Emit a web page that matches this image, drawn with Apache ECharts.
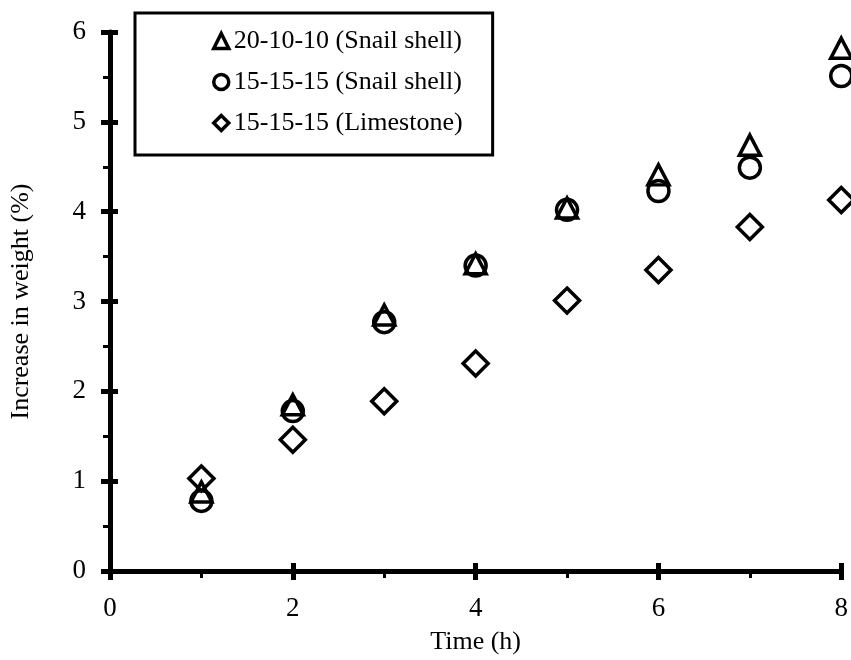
<!DOCTYPE html>
<html>
<head>
<meta charset="utf-8">
<script src="https://cdn.jsdelivr.net/npm/echarts@6/dist/echarts.min.js"></script>
<style>
  html, body { margin: 0; padding: 0; background: #fff; }
  #chart { width: 851px; height: 660px; }
</style>
</head>
<body>
<div id="chart"></div>
<script>
var hours = [1, 2, 3, 4, 5, 6, 7, 8];
var snail201010 = [0.88, 1.85, 2.85, 3.42, 4.04, 4.41, 4.74, 5.82];
var snail151515 = [0.78, 1.78, 2.77, 3.40, 4.02, 4.23, 4.49, 5.51];
var lime151515 = [1.03, 1.46, 1.89, 2.31, 3.01, 3.35, 3.83, 4.13];

var seriesNames = ['20-10-10 (Snail shell)', '15-15-15 (Snail shell)', '15-15-15 (Limestone)'];

var font = "'Liberation Serif', 'Times New Roman', serif";

function pairs(xs, ys) {
  return xs.map(function (x, i) { return [x, ys[i]]; });
}

var chartDom = document.getElementById('chart');
var myChart = echarts.init(chartDom);
var option;

var hollow = { color: 'rgba(0,0,0,0)', borderColor: '#000', borderWidth: 3.5, opacity: 1 };

// outer axis draws line, labels, outside ticks; inner axis adds the inside half of major ticks
function outerAxis(extra) {
  return Object.assign({
    type: 'value',
    axisLine: { show: true, onZero: false, lineStyle: { color: '#000', width: 5 } },
    axisTick: { show: true, length: 9, lineStyle: { color: '#000', width: 5 } },
    minorTick: { show: true, splitNumber: 2, length: 7, lineStyle: { color: '#000', width: 3 } },
    splitLine: { show: false },
    axisLabel: { color: '#000', fontSize: 27, fontFamily: font },
    nameTextStyle: { color: '#000', fontSize: 26, fontFamily: font }
  }, extra);
}
function innerAxis(extra) {
  return Object.assign({
    type: 'value',
    axisLine: { show: false },
    axisTick: { show: true, inside: true, length: 8, lineStyle: { color: '#000', width: 5 } },
    axisLabel: { show: false },
    splitLine: { show: false }
  }, extra);
}

option = {
  backgroundColor: '#fff',
  animation: false,
  grid: { left: 110, right: 8, top: 32, bottom: 88 },
  legend: {
    orient: 'vertical',
    left: 135,
    top: 13,
    padding: [15, 30, 19, 77],
    itemGap: 15,
    itemWidth: 15,
    itemHeight: 15,
    borderColor: '#000',
    borderWidth: 3,
    borderRadius: 0,
    backgroundColor: '#fff',
    itemStyle: { borderWidth: 3.5, borderColor: '#000', opacity: 1 },
    textStyle: { color: '#000', fontSize: 26, fontFamily: font },
    data: seriesNames
  },
  xAxis: [
    outerAxis({
      position: 'bottom', min: 0, max: 8, interval: 2,
      name: 'Time (h)', nameLocation: 'middle', nameGap: 58,
      axisLabel: { color: '#000', fontSize: 27, fontFamily: font, margin: 24 }
    }),
    innerAxis({ position: 'bottom', min: 0, max: 8, interval: 2 })
  ],
  yAxis: [
    outerAxis({
      position: 'left', min: 0, max: 6, interval: 1,
      name: 'Increase in weight (%)', nameLocation: 'middle', nameGap: 76,
      axisLabel: { color: '#000', fontSize: 27, fontFamily: font, margin: 24 }
    }),
    innerAxis({ position: 'left', min: 0, max: 6, interval: 1 })
  ],
  series: [
    {
      name: seriesNames[0], type: 'scatter', symbol: 'triangle', symbolSize: [21, 20],
      clip: false, itemStyle: hollow, data: pairs(hours, snail201010)
    },
    {
      name: seriesNames[1], type: 'scatter', symbol: 'circle', symbolSize: 21,
      clip: false, itemStyle: hollow, data: pairs(hours, snail151515)
    },
    {
      name: seriesNames[2], type: 'scatter', symbol: 'diamond', symbolSize: 25,
      clip: false, itemStyle: hollow, data: pairs(hours, lime151515)
    }
  ]
};

option && myChart.setOption(option);
</script>
</body>
</html>
